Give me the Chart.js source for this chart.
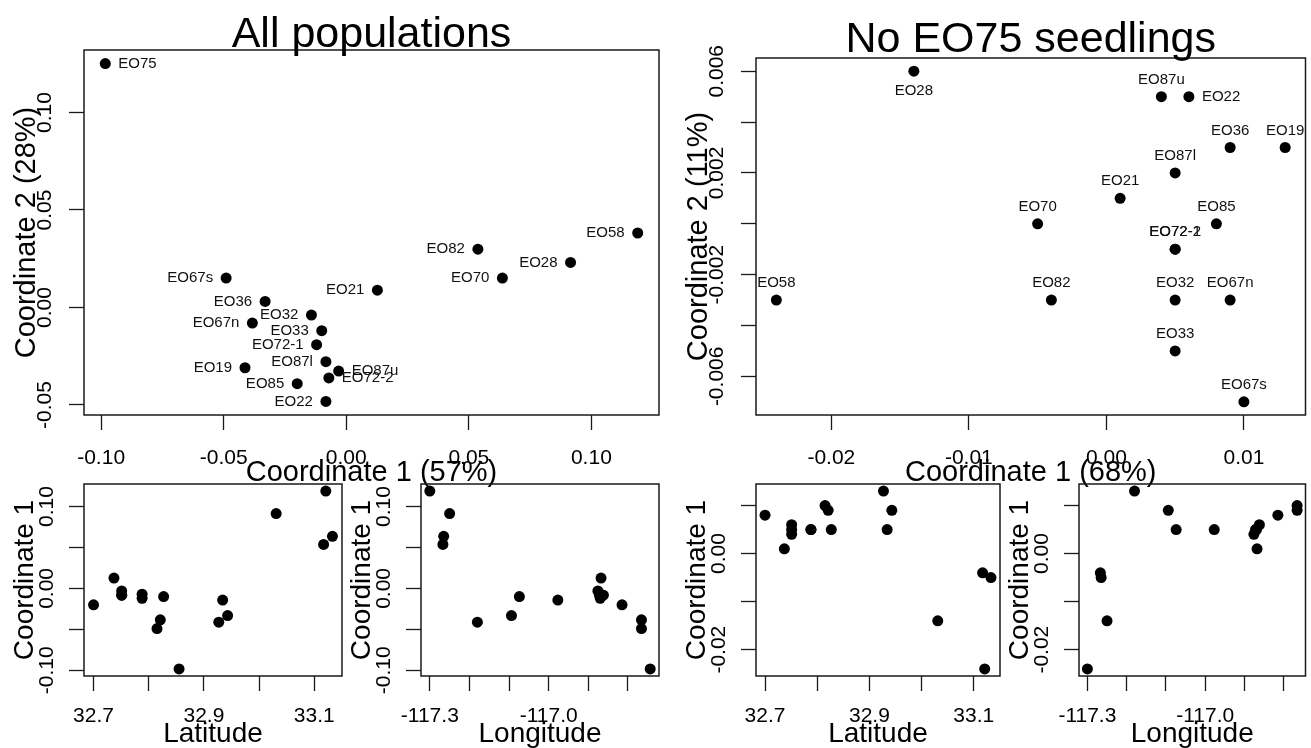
<!DOCTYPE html>
<html>
<head>
<meta charset="utf-8">
<script src="https://cdn.jsdelivr.net/npm/chart.js@4.4.1/dist/chart.umd.min.js"></script>
<style>
  html, body { margin: 0; padding: 0; background: #fff; }
  #wrap { position: relative; width: 1311px; height: 748px; overflow: hidden; }
  #wrap canvas { position: absolute; left: 0; top: 0; }
</style>
</head>
<body>
<div id="wrap">
  <canvas id="all" width="1311" height="748"></canvas>
  <canvas id="noSeed" width="1311" height="748"></canvas>
  <canvas id="latAll" width="1311" height="748"></canvas>
  <canvas id="lonAll" width="1311" height="748"></canvas>
  <canvas id="latNoSeed" width="1311" height="748"></canvas>
  <canvas id="lonNoSeed" width="1311" height="748"></canvas>
</div>
<script>
// populations (EO75 first, it is dropped in the "no seedlings" analysis)
const pops = ['EO75', 'EO58', 'EO82', 'EO28', 'EO70', 'EO67s', 'EO21', 'EO36', 'EO32',
  'EO67n', 'EO33', 'EO72-1', 'EO87l', 'EO19', 'EO87u', 'EO72-2', 'EO85', 'EO22'];
const latitude = [32.855, 33.121, 33.117, 33.031, 33.133, 32.815, 32.737, 32.943, 32.934,
  32.821, 32.827, 32.788, 32.751, 32.927, 32.751, 32.788, 32.700, 32.751];
const longitude = [-116.744, -117.300, -117.267, -117.250, -117.265, -116.766, -116.868, -117.094, -116.977,
  -116.766, -117.074, -116.870, -116.872, -117.180, -116.876, -116.870, -116.815, -116.862];

// PCoA, all populations
const coord1All = [-0.0983, 0.1189, 0.0537, 0.0915, 0.0637, -0.0490, 0.0127, -0.0331, -0.0142,
  -0.0383, -0.0100, -0.0121, -0.0083, -0.0413, -0.0031, -0.0071, -0.0200, -0.0083];
const coord2All = [0.1251, 0.0382, 0.0299, 0.0231, 0.0151, 0.0151, 0.0089, 0.0031, -0.0039,
  -0.0080, -0.0119, -0.0191, -0.0278, -0.0309, -0.0326, -0.0361, -0.0391, -0.0482];

// PCoA without EO75 seedlings (same order as pops.slice(1))
const coord1NoSeed = [-0.024, -0.004, -0.014, -0.005, 0.010, 0.001, 0.009, 0.005,
  0.009, 0.005, 0.005, 0.005, 0.013, 0.004, 0.005, 0.008, 0.006];
const coord2NoSeed = [-0.003, -0.003, 0.006, 0.000, -0.007, 0.001, 0.003, -0.003,
  -0.003, -0.005, -0.001, 0.002, 0.003, 0.005, -0.001, 0.000, 0.005];

// axis ticks and labelled ticks
const ticksC1All = [-0.10, -0.05, 0.00, 0.05, 0.10];
const ticksC2All = [-0.05, 0.00, 0.05, 0.10];
const ticksC1NoSeed = [-0.02, -0.01, 0.00, 0.01];
const ticksC2NoSeed = [-0.006, -0.004, -0.002, 0.000, 0.002, 0.004, 0.006];
const labelsC2NoSeed = [-0.006, -0.002, 0.002, 0.006];
const ticksSmallAll = [-0.10, -0.05, 0.00, 0.05, 0.10];
const labelsSmallAll = [-0.10, 0.00, 0.10];
const ticksSmallNoSeed = [-0.02, -0.01, 0.00, 0.01];
const labelsSmallNoSeed = [-0.02, 0.00];
const ticksLat = [32.7, 32.8, 32.9, 33.0, 33.1];
const labelsLat = [32.7, 32.9, 33.1];
const ticksLon = [-117.3, -117.2, -117.1, -117.0, -116.9, -116.8];
const labelsLon = [-117.3, -117.0];

const W = 1311, H = 748, TICK = 15;
const FONT = '"Liberation Sans", Arial, Helvetica, sans-serif';

// R style axis range: data range stretched by 4%
function rRange(vals) {
  const lo = Math.min(...vals), hi = Math.max(...vals), pad = (hi - lo) * 0.04;
  return [lo - pad, hi + pad];
}

function rotText(ctx, text, x, y) {
  ctx.save();
  ctx.translate(x, y);
  ctx.rotate(-Math.PI / 2);
  ctx.fillText(text, 0, 0);
  ctx.restore();
}

// box, tick labels, titles and point names drawn the way base R does it
function rText(o) {
  return {
    id: 'rText',
    afterDraw(chart) {
      const ctx = chart.ctx, a = chart.chartArea;
      const xs = chart.scales.x, ys = chart.scales.y;
      ctx.save();
      ctx.strokeStyle = '#1a1a1a';
      ctx.lineWidth = 1.5;
      ctx.strokeRect(a.left, a.top, a.right - a.left, a.bottom - a.top);

      ctx.fillStyle = '#000';
      ctx.textAlign = 'center';
      ctx.textBaseline = 'alphabetic';
      ctx.font = '21px ' + FONT;
      o.xLabels.forEach(v => ctx.fillText(v.toFixed(o.xDigits), xs.getPixelForValue(v), a.bottom + o.xTickGap));
      o.yLabels.forEach(v => rotText(ctx, v.toFixed(o.yDigits), a.left - o.yTickGap, ys.getPixelForValue(v)));

      ctx.font = o.axisSize + 'px ' + FONT;
      ctx.fillText(o.xTitle, (a.left + a.right) / 2, a.bottom + o.xTitleGap);
      rotText(ctx, o.yTitle, a.left - o.yTitleGap, (a.top + a.bottom) / 2);

      if (o.title) {
        ctx.font = '43px ' + FONT;
        ctx.fillText(o.title, (a.left + a.right) / 2, a.top - o.titleGap);
      }

      if (o.names) {
        ctx.font = '15px ' + FONT;
        ctx.fillStyle = '#111';
        chart.getDatasetMeta(0).data.forEach((el, i) => {
          const name = o.names[i];
          const side = o.sides[name] || o.defaultSide;
          if (side === 'left') {
            ctx.textAlign = 'right'; ctx.textBaseline = 'middle';
            ctx.fillText(name, el.x - 13, el.y);
          } else if (side === 'right') {
            ctx.textAlign = 'left'; ctx.textBaseline = 'middle';
            ctx.fillText(name, el.x + 13, el.y);
          } else if (side === 'top') {
            ctx.textAlign = 'center'; ctx.textBaseline = 'alphabetic';
            ctx.fillText(name, el.x, el.y - 13);
          } else {
            ctx.textAlign = 'center'; ctx.textBaseline = 'alphabetic';
            ctx.fillText(name, el.x, el.y + 24);
          }
        });
      }
      ctx.restore();
    }
  };
}

function axis(vals, ticks) {
  const [min, max] = rRange(vals);
  return {
    type: 'linear', min, max,
    afterBuildTicks: s => { s.ticks = ticks.map(v => ({ value: v })); },
    ticks: { display: false },
    grid: { display: true, drawOnChartArea: false, drawTicks: true, tickLength: TICK, tickColor: '#1a1a1a', tickWidth: 1.3 },
    border: { display: false }
  };
}

function panel(id, box, xv, yv, xTicks, yTicks, text) {
  new Chart(document.getElementById(id), {
    type: 'scatter',
    data: {
      datasets: [{
        data: xv.map((x, i) => ({ x, y: yv[i] })),
        backgroundColor: '#000',
        borderWidth: 0,
        pointRadius: 5.5
      }]
    },
    options: {
      responsive: false,
      animation: false,
      events: [],
      layout: { padding: { left: box.l - TICK, right: W - box.r, top: box.t, bottom: H - box.b - TICK } },
      scales: { x: axis(xv, xTicks), y: axis(yv, yTicks) },
      plugins: { legend: { display: false }, tooltip: { enabled: false } }
    },
    plugins: [rText(text)]
  });
}

const big = { xTickGap: 49, yTickGap: 33, xTitleGap: 66, yTitleGap: 49, axisSize: 29 };
const small = { xTickGap: 46, yTickGap: 31, xTitleGap: 66, yTitleGap: 51, axisSize: 28 };

panel('all', { l: 84, r: 659, t: 50, b: 415 }, coord1All, coord2All, ticksC1All, ticksC2All, {
  ...big, title: 'All populations', titleGap: 3,
  xTitle: 'Coordinate 1 (57%)', yTitle: 'Coordinate 2 (28%)',
  xLabels: ticksC1All, xDigits: 2, yLabels: ticksC2All, yDigits: 2,
  names: pops, defaultSide: 'left', sides: { 'EO75': 'right', 'EO87u': 'right', 'EO72-2': 'right' }
});

panel('noSeed', { l: 756, r: 1308, t: 58, b: 415 }, coord1NoSeed, coord2NoSeed, ticksC1NoSeed, ticksC2NoSeed, {
  ...big, title: 'No EO75 seedlings', titleGap: 6,
  xTitle: 'Coordinate 1 (68%)', yTitle: 'Coordinate 2 (11%)',
  xLabels: ticksC1NoSeed, xDigits: 2, yLabels: labelsC2NoSeed, yDigits: 3,
  names: pops.slice(1), defaultSide: 'top', sides: { 'EO28': 'bottom', 'EO22': 'right' }
});

panel('latAll', { l: 84, r: 342, t: 484, b: 676 }, latitude, coord1All, ticksLat, ticksSmallAll, {
  ...small, xTitle: 'Latitude', yTitle: 'Coordinate 1',
  xLabels: labelsLat, xDigits: 1, yLabels: labelsSmallAll, yDigits: 2
});

panel('lonAll', { l: 421, r: 659, t: 484, b: 676 }, longitude, coord1All, ticksLon, ticksSmallAll, {
  ...small, xTitle: 'Longitude', yTitle: 'Coordinate 1',
  xLabels: labelsLon, xDigits: 1, yLabels: labelsSmallAll, yDigits: 2
});

panel('latNoSeed', { l: 756, r: 1000, t: 484, b: 676 }, latitude.slice(1), coord1NoSeed, ticksLat, ticksSmallNoSeed, {
  ...small, xTitle: 'Latitude', yTitle: 'Coordinate 1',
  xLabels: labelsLat, xDigits: 1, yLabels: labelsSmallNoSeed, yDigits: 2
});

panel('lonNoSeed', { l: 1079, r: 1308, t: 484, b: 676 }, longitude.slice(1), coord1NoSeed, ticksLon, ticksSmallNoSeed, {
  ...small, xTitle: 'Longitude', yTitle: 'Coordinate 1',
  xLabels: labelsLon, xDigits: 1, yLabels: labelsSmallNoSeed, yDigits: 2
});
</script>
</body>
</html>
